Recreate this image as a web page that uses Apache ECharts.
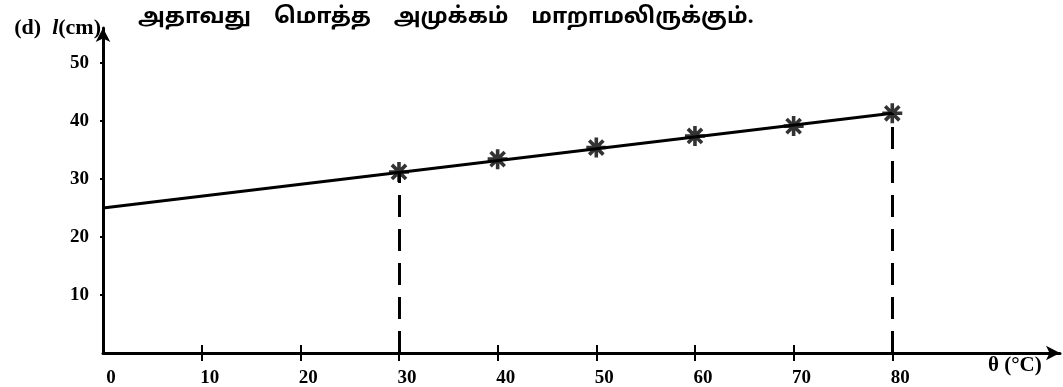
<!DOCTYPE html>
<html>
<head>
<meta charset="utf-8">
<script src="https://cdn.jsdelivr.net/npm/echarts@6/dist/echarts.min.js"></script>
<style>
  html, body { margin: 0; padding: 0; background: #fff; }
  #chart { width: 1063px; height: 387px; }
</style>
</head>
<body>
<div id="chart"></div>
<script>
  // 数据
  const xTicks = [0, 10, 20, 30, 40, 50, 60, 70, 80]
  const yTicks = [10, 20, 30, 40, 50]
  const obsX = [30, 40, 50, 60, 70, 80]
  const obsY = [31.2, 33.4, 35.4, 37.4, 39.1, 41.3]
  const fitX = [0, 80]
  const fitY = [25.0, 41.3]
  const dropX = [30, 80]

  const serif = 'Liberation Serif, DejaVu Serif, serif'
  // 星号
  const star = 'path://M-10 -1.8L10 -1.8L10 1.8L-10 1.8Z' +
    'M-1.8 -10L1.8 -10L1.8 10L-1.8 10Z' +
    'M-8.34 -5.8L-5.8 -8.34L8.34 5.8L5.8 8.34Z' +
    'M-5.8 8.34L-8.34 5.8L5.8 -8.34L8.34 -5.8Z'

  const chart = echarts.init(document.getElementById('chart'))

  chart.setOption({
    backgroundColor: '#fff',
    animation: false,
    title: {
      text: 'அதாவது    மொத்த    அமுக்கம்    மாறாமலிருக்கும்.',
      left: 133,
      top: 3,
      textStyle: {
        fontSize: 22,
        fontWeight: 'bold',
        color: '#000',
        fontFamily: 'Noto Sans Tamil, Latha, Noto Sans, sans-serif'
      }
    },
    grid: {
      left: 103,
      right: 3,
      top: 28,
      bottom: 34,
      outerBoundsMode: 'none'
    },
    xAxis: [{
      type: 'value',
      min: 0,
      max: 97,
      name: 'θ (°C)',
      nameLocation: 'end',
      nameGap: -72,
      nameTextStyle: {
        fontFamily: serif,
        fontWeight: 'bold',
        fontSize: 21,
        color: '#000',
        verticalAlign: 'top',
        padding: [2, 0, 0, 0]
      },
      axisLine: {
        lineStyle: { color: '#000', width: 3 },
        symbol: ['none', 'arrow'],
        symbolSize: [11, 14]
      },
      axisTick: {
        length: 8,
        lineStyle: { color: '#000', width: 2 },
        customValues: xTicks.slice(1)
      },
      axisLabel: {
        margin: 16,
        padding: [0, 0, 0, 16],
        fontFamily: serif,
        fontWeight: 'bold',
        fontSize: 19,
        color: '#000',
        customValues: xTicks
      },
      splitLine: { show: false }
    }, {
      // 轴线上方的刻度
      type: 'value',
      min: 0,
      max: 97,
      position: 'bottom',
      axisLine: { show: false },
      axisTick: {
        inside: true,
        length: 8,
        lineStyle: { color: '#000', width: 2 },
        customValues: xTicks.slice(1)
      },
      axisLabel: { show: false },
      splitLine: { show: false }
    }],
    yAxis: {
      type: 'value',
      min: 0,
      max: 56,
      name: '{a|(d)  }{b|l}{a|(cm)}',
      nameLocation: 'end',
      nameGap: 0,
      nameTextStyle: {
        align: 'right',
        verticalAlign: 'middle',
        padding: [0, 2, 0, 0],
        rich: {
          a: { fontFamily: serif, fontWeight: 'bold', fontSize: 22, color: '#000' },
          b: { fontFamily: serif, fontWeight: 'bold', fontStyle: 'italic', fontSize: 22, color: '#000' }
        }
      },
      axisLine: {
        show: true,
        lineStyle: { color: '#000', width: 3 },
        symbol: ['none', 'arrow'],
        symbolSize: [11, 14]
      },
      axisTick: {
        show: true,
        length: 3,
        lineStyle: { color: '#000', width: 2 },
        customValues: yTicks
      },
      axisLabel: {
        margin: 14,
        fontFamily: serif,
        fontWeight: 'bold',
        fontSize: 19,
        color: '#000',
        customValues: yTicks
      },
      splitLine: { show: false }
    },
    series: [{
      type: 'line',
      data: fitX.map((x, i) => [x, fitY[i]]),
      symbol: 'none',
      lineStyle: { color: '#000', width: 3 },
      silent: true
    }, {
      type: 'scatter',
      data: obsX.map((x, i) => [x, obsY[i]]),
      symbol: star,
      symbolSize: 20,
      itemStyle: { color: '#000' },
      markLine: {
        silent: true,
        symbol: 'none',
        label: { show: false },
        lineStyle: { color: '#000', width: 3, type: [22, 12] },
        data: dropX.map(x => [
          { coord: [x, 0] },
          { coord: [x, obsY[obsX.indexOf(x)]] }
        ])
      }
    }]
  })
</script>
</body>
</html>
